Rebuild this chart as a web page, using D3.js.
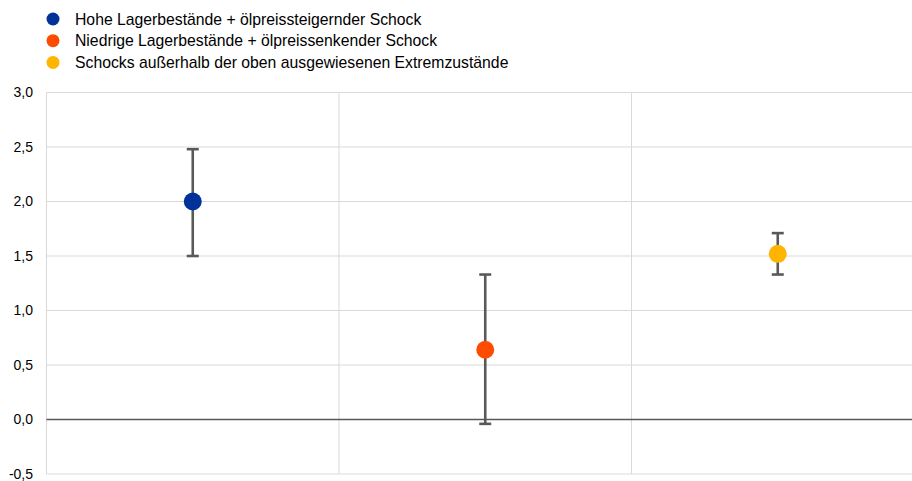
<!DOCTYPE html>
<html>
<head>
<meta charset="utf-8">
<script src="https://cdn.jsdelivr.net/npm/d3@7"></script>
<style>
  html, body { margin: 0; padding: 0; background: #fff; }
  svg { display: block; font-family: Arial, "Liberation Sans", sans-serif; }
</style>
</head>
<body>
<svg id="chart" width="912" height="481"></svg>
<script>
// Shock scenarios, point estimates and confidence bounds
const categories = [
  "Hohe Lagerbestände + ölpreissteigernder Schock",
  "Niedrige Lagerbestände + ölpreissenkender Schock",
  "Schocks außerhalb der oben ausgewiesenen Extremzustände"
];
const estimates = [2.0, 0.64, 1.52];
const lowerBounds = [1.5, -0.04, 1.33];
const upperBounds = [2.48, 1.33, 1.71];
const colors = ["#003299", "#FF4B00", "#FFB400"];
const yTicks = [-0.5, 0, 0.5, 1, 1.5, 2, 2.5, 3];

const svg = d3.select("#chart");
const margin = { left: 46.5, top: 92.5, bottom: 474 };
const plotRight = 924;

const x = d3.scaleBand().domain(categories).range([margin.left, plotRight]).padding(0);
const y = d3.scaleLinear().domain([-0.5, 3]).range([margin.bottom, margin.top]);

const fmt = v => d3.format(".1f")(v).replace(".", ",").replace("−", "-");

// horizontal gridlines
svg.append("g").selectAll("line").data(yTicks.filter(d => d !== 0)).join("line")
  .attr("x1", margin.left).attr("x2", plotRight)
  .attr("y1", d => y(d)).attr("y2", d => y(d))
  .attr("stroke", "#d9d9d9").attr("stroke-width", 1);

// vertical category separators
const seps = [margin.left, ...categories.slice(1).map(c => x(c))];
svg.append("g").selectAll("line").data(seps).join("line")
  .attr("x1", d => d).attr("x2", d => d)
  .attr("y1", margin.top).attr("y2", margin.bottom)
  .attr("stroke", "#d9d9d9").attr("stroke-width", 1);

// zero line
svg.append("line")
  .attr("x1", margin.left).attr("x2", plotRight)
  .attr("y1", y(0)).attr("y2", y(0))
  .attr("stroke", "#595959").attr("stroke-width", 1.3);

// y axis labels
const yAxis = d3.axisLeft(y).tickValues(yTicks).tickFormat(fmt).tickSize(0).tickPadding(0);
const ya = svg.append("g").attr("transform", "translate(33,0)").call(yAxis);
ya.select(".domain").remove();
ya.selectAll("text").attr("font-size", 14).attr("fill", "#000")
  .attr("font-family", "Arial, 'Liberation Sans', sans-serif");

// error bars
const cx = (c) => x(c) + x.bandwidth() / 2;
const eb = svg.append("g").attr("stroke", "#595959").attr("stroke-width", 2.6);
categories.forEach((c, i) => {
  eb.append("line").attr("x1", cx(c)).attr("x2", cx(c))
    .attr("y1", y(lowerBounds[i])).attr("y2", y(upperBounds[i]));
  [lowerBounds[i], upperBounds[i]].forEach(v => {
    eb.append("line").attr("x1", cx(c) - 6).attr("x2", cx(c) + 6)
      .attr("y1", y(v)).attr("y2", y(v));
  });
});

// point estimates
svg.append("g").selectAll("circle").data(categories).join("circle")
  .attr("cx", d => cx(d)).attr("cy", (d, i) => y(estimates[i]))
  .attr("r", 9).attr("fill", (d, i) => colors[i]);

// legend
const lg = svg.append("g").selectAll("g").data(categories).join("g")
  .attr("transform", (d, i) => `translate(53,${19 + i * 21.7})`);
lg.append("circle").attr("r", 6.5).attr("fill", (d, i) => colors[i]);
lg.append("text").attr("x", 22).attr("dy", "0.35em")
  .attr("font-size", 15.75).attr("fill", "#000").text(d => d);
</script>
</body>
</html>
